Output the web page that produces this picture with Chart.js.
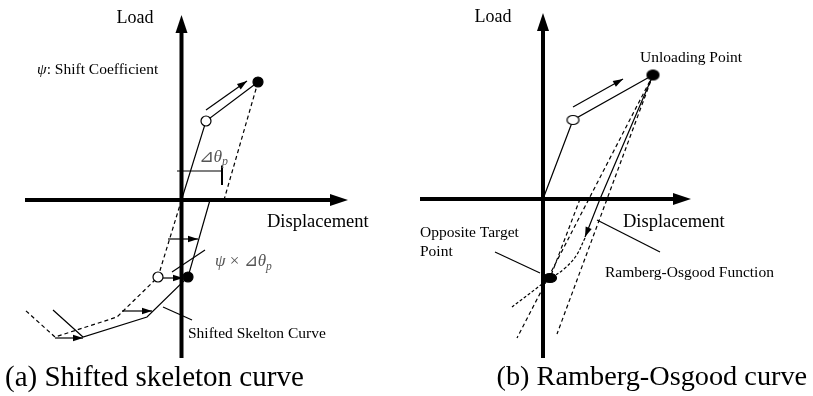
<!DOCTYPE html>
<html>
<head>
<meta charset="utf-8">
<script src="https://cdn.jsdelivr.net/npm/chart.js@4.4.0/dist/chart.umd.min.js"></script>
<style>
  html, body { margin: 0; padding: 0; background: #fff; }
  #wrap { display: flex; width: 813px; height: 396px; }
  .panel { position: relative; height: 396px; }
</style>
</head>
<body>
<div id="wrap">
  <div class="panel" style="width:406px"><canvas id="chartA"></canvas></div>
  <div class="panel" style="width:407px"><canvas id="chartB"></canvas></div>
</div>
<script>
// ---- (a) shifted skeleton curve : [displacement, load] ----
const A_AXIS_X = [[-15.65, 0], [14.85, 0]];
const A_AXIS_Y = [[0, -15.8], [0, 16.7]];
const A_LOADING = [[0, 0], [2.45, 7.9], [7.65, 11.8]];
const A_UNLOADING = [[7.65, 11.8], [4.25, 0]];
const A_SKELETON = [[0, 0], [-2.35, -7.7], [-6.45, -11.7], [-12.65, -13.7], [-15.65, -11.0]];
const A_SHIFTED = [[2.85, 0], [0.65, -7.7], [-3.45, -11.7], [-9.85, -13.7], [-12.85, -11.0]];
const A_YIELD_PTS = [[2.45, 7.9], [-2.35, -7.7]];
const A_PEAK_PTS = [[7.65, 11.8], [0.65, -7.7]];
const A_LOAD_ARROW = [[2.45, 9.0], [6.55, 11.9]];
const A_SHIFT_ARROWS = [
  [[-1.35, -3.9], [1.65, -3.9]],
  [[-1.85, -7.8], [0.15, -7.8]],
  [[-5.95, -11.1], [-2.95, -11.1]],
  [[-12.65, -13.8], [-9.85, -13.8]]
];
const A_DTHETA = [[-0.45, 2.9], [4.15, 2.9]];
const A_DTHETA_TICK = [[4.05, 3.45], [4.05, 1.5]];
const A_LEADERS = [
  [[-0.95, -7.2], [2.35, -5.0]],
  [[-1.85, -10.7], [1.05, -12.0]]
];

// ---- (b) Ramberg-Osgood curve ----
const B_AXIS_X = [[-12.3, 0], [13.0, 0]];
const B_AXIS_Y = [[0, -15.9], [0, 16.8]];
const B_LOADING = [[0, 0], [3.0, 7.9], [11.0, 12.4]];
const B_LOAD_ARROW = [[3.0, 9.2], [8.0, 12.0]];
const B_SECANT = [[11.0, 12.4], [-2.6, -13.9]];
const B_OUTER = [[11.0, 12.4], [1.4, -13.5]];
const B_ELASTIC = [[3.7, 0], [0.7, -7.9]];
const B_RO_SOLID = [[11.0, 12.4], [5.7, 0], [4.2, -3.8]];
const B_RO_TAIL = [[4.2, -3.9], [3.3, -5.7], [2.1, -7.0], [1.0, -7.8]];
const B_TANGENT = [[0.7, -7.9], [-3.1, -10.8]];
const B_YIELD_PT = [[3.0, 7.9]];
const B_UNLOAD_PT = [[11.0, 12.4]];
const B_TARGET_PT = [[0.7, -7.9]];
const B_LEADERS = [
  [[-4.8, -5.3], [-0.3, -7.4]],
  [[5.4, -2.1], [11.7, -5.3]]
];

const SERIF = '"Liberation Serif", "Times New Roman", serif';
const GREY = '#555';

// text notes (runs: [text, style]; style 'i' = italic, 'sub' = italic subscript)
const A_NOTES = [
  { x: -4.65, y: 18.2, size: 18, align: 'center', runs: [['Load']] },
  { x: -14.45, y: 13.0, size: 15.5, runs: [['ψ', 'i'], [': Shift Coefficient']] },
  { x: 1.7, y: 4.3, size: 17.5, color: GREY, runs: [['⊿'], ['θ', 'i'], ['p', 'sub']] },
  { x: 8.55, y: -2.2, size: 18.5, runs: [['Displacement']] },
  { x: 3.35, y: -6.2, size: 17, color: GREY, runs: [['ψ', 'i'], [' × '], ['⊿'], ['θ', 'i'], ['p', 'sub']] },
  { x: 0.65, y: -13.4, size: 15.5, runs: [['Shifted Skelton Curve']] },
  { x: -17.65, y: -17.8, size: 29, runs: [['(a) Shifted skeleton curve']] }
];
const B_NOTES = [
  { x: -5.0, y: 18.2, size: 18, align: 'center', runs: [['Load']] },
  { x: 9.7, y: 14.1, size: 15.5, runs: [['Unloading Point']] },
  { x: 8.0, y: -2.3, size: 18.5, runs: [['Displacement']] },
  { x: -12.3, y: -3.4, size: 15.5, runs: [['Opposite Target']] },
  { x: -12.3, y: -5.3, size: 15.5, runs: [['Point']] },
  { x: 6.2, y: -7.4, size: 15.5, runs: [['Ramberg-Osgood Function']] },
  { x: -4.65, y: -17.9, size: 28.3, runs: [['(b) Ramberg-Osgood curve']] }
];

function toXY(pts) { return pts.map(([x, y]) => ({ x, y })); }

function line(pts, opts) {
  return Object.assign({
    data: toXY(pts), showLine: true, pointRadius: 0, pointHoverRadius: 0,
    borderColor: '#000', borderWidth: 1.2, fill: false, clip: false, tension: 0
  }, opts);
}

function marks(pts, opts) {
  return Object.assign({
    data: toXY(pts), showLine: false, pointStyle: 'circle', pointRadius: 5,
    borderColor: '#000', borderWidth: 1.2, clip: false
  }, opts);
}

function ellipse(w, h, fill) {
  const c = document.createElement('canvas');
  c.width = w + 3; c.height = h + 3;
  const g = c.getContext('2d');
  g.beginPath();
  g.ellipse(c.width / 2, c.height / 2, w / 2, h / 2, 0, 0, Math.PI * 2);
  g.fillStyle = fill; g.fill();
  g.lineWidth = 1.2; g.strokeStyle = '#000'; g.stroke();
  return c;
}

const AXIS_HEAD = { len: 18, width: 12, ahead: true };
const SMALL_HEAD = { len: 10, width: 6.5 };

const arrowPlugin = {
  id: 'arrowHeads',
  afterDatasetsDraw(chart) {
    const ctx = chart.ctx;
    chart.data.datasets.forEach((ds, i) => {
      if (!ds.arrow) return;
      const pts = chart.getDatasetMeta(i).data;
      const a = pts[pts.length - 2], b = pts[pts.length - 1];
      let dx = b.x - a.x, dy = b.y - a.y;
      const d = Math.hypot(dx, dy);
      dx /= d; dy /= d;
      const len = ds.arrow.len, w = ds.arrow.width / 2;
      const tx = b.x + (ds.arrow.ahead ? dx * len : 0);
      const ty = b.y + (ds.arrow.ahead ? dy * len : 0);
      const bx = tx - dx * len, by = ty - dy * len;
      ctx.save();
      ctx.fillStyle = ds.borderColor;
      ctx.beginPath();
      ctx.moveTo(tx, ty);
      ctx.lineTo(bx - dy * w, by + dx * w);
      ctx.lineTo(bx + dy * w, by - dx * w);
      ctx.closePath();
      ctx.fill();
      ctx.restore();
    });
  }
};

const notesPlugin = {
  id: 'notes',
  afterDraw(chart, args, opts) {
    const ctx = chart.ctx;
    const sx = chart.scales.x, sy = chart.scales.y;
    (opts.items || []).forEach(n => {
      const px = sx.getPixelForValue(n.x), py = sy.getPixelForValue(n.y);
      const fonts = n.runs.map(([t, s]) => {
        const size = s === 'sub' ? n.size * 0.68 : n.size;
        return (s ? 'italic ' : '') + size + 'px ' + SERIF;
      });
      let total = 0;
      const widths = n.runs.map(([t], k) => { ctx.font = fonts[k]; const w = ctx.measureText(t).width; total += w; return w; });
      let x = n.align === 'center' ? px - total / 2 : px;
      ctx.save();
      ctx.fillStyle = n.color || '#000';
      ctx.textBaseline = 'middle';
      ctx.textAlign = 'left';
      n.runs.forEach(([t, s], k) => {
        ctx.font = fonts[k];
        ctx.fillText(t, x, py + (s === 'sub' ? n.size * 0.3 : 0));
        x += widths[k];
      });
      ctx.restore();
    });
  }
};

function makePanel(id, ext, datasets, notes) {
  return new Chart(document.getElementById(id), {
    type: 'scatter',
    data: { datasets },
    options: {
      responsive: true,
      maintainAspectRatio: false,
      animation: false,
      events: [],
      layout: { padding: 0, autoPadding: false },
      plugins: { legend: { display: false }, tooltip: { enabled: false }, notes: { items: notes } },
      scales: {
        x: { type: 'linear', display: false, min: ext[0], max: ext[1] },
        y: { type: 'linear', display: false, min: ext[2], max: ext[3] }
      }
    },
    plugins: [arrowPlugin, notesPlugin]
  });
}

const DASH = [4, 3];

makePanel('chartA', [-18.15, 22.45, -19.6, 20.0], [
  marks(A_YIELD_PTS, { backgroundColor: '#fff' }),
  marks(A_PEAK_PTS, { backgroundColor: '#000' }),
  line(A_LOADING),
  line(A_UNLOADING, { borderDash: DASH }),
  line(A_SKELETON, { borderDash: DASH }),
  line(A_SHIFTED),
  line(A_LOAD_ARROW, { arrow: SMALL_HEAD }),
  ...A_SHIFT_ARROWS.map(p => line(p, { arrow: SMALL_HEAD })),
  line(A_DTHETA),
  line(A_DTHETA_TICK, { borderWidth: 2 }),
  ...A_LEADERS.map(p => line(p)),
  line(A_AXIS_X, { borderWidth: 4, arrow: AXIS_HEAD }),
  line(A_AXIS_Y, { borderWidth: 4, arrow: AXIS_HEAD })
], A_NOTES);

makePanel('chartB', [-13.7, 27.0, -19.7, 19.9], [
  marks(B_YIELD_PT, { pointStyle: ellipse(12, 9, '#fff') }),
  marks(B_UNLOAD_PT, { pointStyle: ellipse(12, 10, '#000') }),
  marks(B_TARGET_PT, { pointStyle: ellipse(13, 9, '#000') }),
  line(B_LOADING),
  line(B_LOAD_ARROW, { arrow: SMALL_HEAD }),
  line(B_SECANT, { borderDash: DASH }),
  line(B_OUTER, { borderDash: DASH }),
  line(B_ELASTIC, { borderDash: DASH }),
  line(B_RO_SOLID, { arrow: SMALL_HEAD }),
  line(B_RO_TAIL, { borderDash: [3, 2], tension: 0.4 }),
  line(B_TANGENT, { borderDash: [3, 2] }),
  ...B_LEADERS.map(p => line(p)),
  line(B_AXIS_X, { borderWidth: 4, arrow: AXIS_HEAD }),
  line(B_AXIS_Y, { borderWidth: 4, arrow: AXIS_HEAD })
], B_NOTES);
</script>
</body>
</html>
